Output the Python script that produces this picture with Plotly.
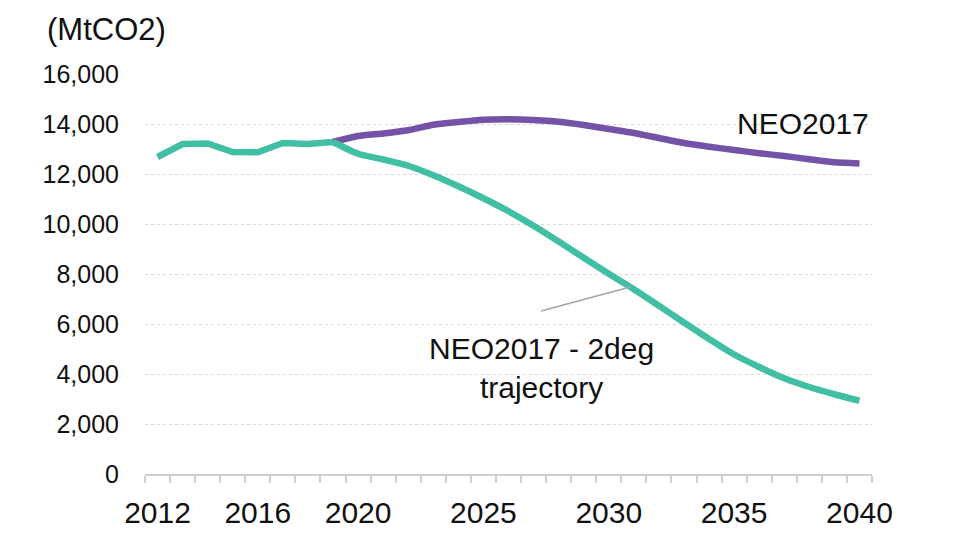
import plotly.graph_objects as go

hist_years = [2012, 2013, 2014, 2015, 2016, 2017, 2018, 2019]
hist_vals = [12680, 13200, 13220, 12880, 12870, 13240, 13200, 13280]

proj_years = [2019, 2020, 2021, 2022, 2023, 2024, 2025, 2026, 2027, 2028, 2029,
              2030, 2031, 2032, 2033, 2034, 2035, 2036, 2037, 2038, 2039, 2040]
neo2017 = [13280, 13520, 13620, 13750, 13970, 14080, 14170, 14190, 14160, 14090, 13960,
           13800, 13640, 13440, 13240, 13090, 12960, 12830, 12720, 12590, 12470, 12420]
neo2deg = [13280, 12810, 12580, 12330, 11950, 11510, 11030, 10510, 9930, 9300, 8650,
           8010, 7390, 6730, 6060, 5400, 4780, 4280, 3830, 3480, 3190, 2930]

x_tick_labels = [2012, 2016, 2020, 2025, 2030, 2035, 2040]
y_ticks = [0, 2000, 4000, 6000, 8000, 10000, 12000, 14000, 16000]

TEAL = "#41bfa5"
PURPLE = "#7452a8"
FONT = "Liberation Sans, Arial, sans-serif"

fig = go.Figure()
fig.add_trace(go.Scatter(x=proj_years, y=neo2017, mode="lines",
                         line=dict(color=PURPLE, width=6.5, shape="spline", smoothing=0.6),
                         name="NEO2017", showlegend=False))
fig.add_trace(go.Scatter(x=proj_years, y=neo2deg, mode="lines",
                         line=dict(color=TEAL, width=6.5, shape="spline", smoothing=0.6),
                         name="NEO2017 - 2deg trajectory", showlegend=False))
fig.add_trace(go.Scatter(x=hist_years, y=hist_vals, mode="lines",
                         line=dict(color=TEAL, width=6.5),
                         name="Historical", showlegend=False))

fig.add_shape(type="line", xref="x", yref="y", x0=2027.3, y0=6520, x1=2030.85, y1=7480,
              line=dict(color="#a6a6a6", width=1.5))

fig.add_annotation(x=2037.75, y=14040, xref="x", yref="y", text="NEO2017",
                   showarrow=False, font=dict(size=30, color="#111111", family=FONT))
fig.add_annotation(x=2027.3, y=4240, xref="x", yref="y", text="NEO2017 - 2deg<br>trajectory",
                   showarrow=False, font=dict(size=30, color="#111111", family=FONT))
fig.add_annotation(x=-0.138, y=1.11, xref="paper", yref="paper", text="(MtCO2)",
                   xanchor="left", yanchor="middle", showarrow=False,
                   font=dict(size=31, color="#111111", family=FONT))

fig.update_layout(
    width=980, height=551,
    margin=dict(l=137, r=116, t=66, b=85),
    paper_bgcolor="white", plot_bgcolor="white",
    font=dict(family=FONT, color="#111111"),
    showlegend=False,
)
fig.update_xaxes(
    range=[2011.5, 2040.5], tickmode="array", tickvals=x_tick_labels,
    ticktext=[str(v) for v in x_tick_labels], ticks="",
    tickfont=dict(size=30, family=FONT, color="#111111"),
    showline=True, linecolor="#d0d0d0", linewidth=2, showgrid=False, zeroline=False,
    ticklabelstandoff=11,
    minor=dict(tickmode="linear", tick0=2011.5, dtick=1, ticks="outside",
               ticklen=7, tickwidth=1.5, tickcolor="#d0d0d0", showgrid=False),
)
fig.update_yaxes(
    range=[0, 16000], tickmode="array", tickvals=y_ticks, tickformat=",d",
    tickfont=dict(size=25, family=FONT, color="#111111"),
    showgrid=True, gridcolor="#d6d6d6", griddash="dot", gridwidth=1,
    zeroline=False, showline=False, ticks="", ticklabelstandoff=25,
)

fig.write_html("out.html")
